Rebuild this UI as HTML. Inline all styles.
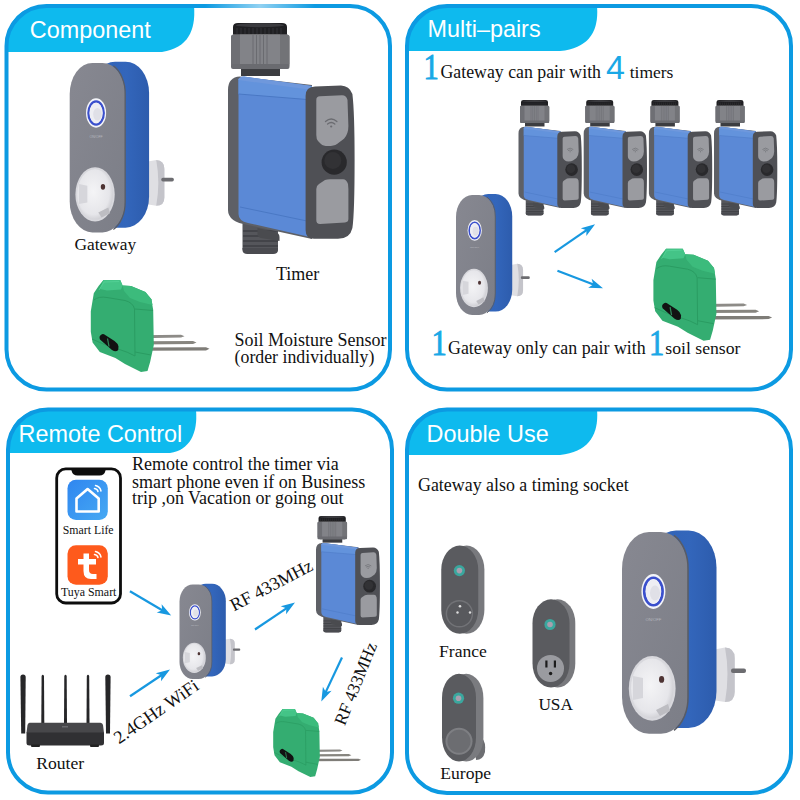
<!DOCTYPE html>
<html><head><meta charset="utf-8">
<style>
html,body{margin:0;padding:0;background:#fff;width:800px;height:800px;overflow:hidden}
svg{display:block}
.hd{font-family:"Liberation Sans",sans-serif;fill:#fff}
.tx{font-family:"Liberation Serif",serif;fill:#111}
</style></head><body>
<svg width="800" height="800" viewBox="0 0 800 800">
<defs>
 <linearGradient id="gwBlue" x1="0" y1="0" x2="1" y2="0">
  <stop offset="0" stop-color="#3062b6"/><stop offset="0.6" stop-color="#3366bb"/><stop offset="1" stop-color="#2d5cad"/>
 </linearGradient>
 <linearGradient id="gwGray" x1="0" y1="0" x2="1" y2="1">
  <stop offset="0" stop-color="#878891"/><stop offset="1" stop-color="#7c7e87"/>
 </linearGradient>
 <radialGradient id="sockG" cx="0.45" cy="0.45" r="0.6">
  <stop offset="0" stop-color="#f4f4f6"/><stop offset="0.75" stop-color="#e6e6ea"/><stop offset="1" stop-color="#c9c9ce"/>
 </radialGradient>
 <g id="tm">
  <!-- bottom connector -->
  <rect x="14.5" y="197" width="35.5" height="34.5" rx="5" fill="#55565b"/>
  <g stroke="#3e3f43" stroke-width="1.6">
   <line x1="15" y1="209" x2="50" y2="209"/><line x1="15" y1="214" x2="50" y2="214"/>
   <line x1="15" y1="219" x2="50" y2="219"/><line x1="15" y1="224" x2="50" y2="224"/>
  </g>
  <path d="M14.5,226 L50,226 L50,228 Q50,232 45,232 L19.5,232 Q14.5,232 14.5,228 Z" fill="#4a4b50"/>
  <!-- nut -->
  <path d="M13,44 L52,44 L52,54 L13,54 Z" fill="#3c3d41"/>
  <path d="M3,15 Q3,12.5 6,12.5 L58.5,12.5 Q61.5,12.5 61.5,15 L61.5,42 Q61.5,46 57,47 L8,47 Q3,46 3,42 Z" fill="#828388"/>
  <path d="M3,15 Q3,12.5 6,12.5 L12,12.5 L12,47 L8,47 Q3,46 3,42 Z" fill="#6e6f74"/>
  <path d="M52,12.5 L58.5,12.5 Q61.5,12.5 61.5,15 L61.5,42 Q61.5,46 57,47 L52,47 Z" fill="#727377"/>
  <g stroke="#6a6b70" stroke-width="1"><line x1="25" y1="13" x2="25" y2="46"/><line x1="28.5" y1="13" x2="28.5" y2="46"/><line x1="32" y1="13" x2="32" y2="46"/><line x1="35.5" y1="13" x2="35.5" y2="46"/><line x1="39" y1="13" x2="39" y2="46"/></g>
  <rect x="3" y="42" width="58.5" height="5" rx="2" fill="#6a6b70"/>
  <path d="M5,5 Q5,1 10,1 L54,1 Q59,1 59,5 L59,12.5 L5,12.5 Z" fill="#1f1f22"/>
  <ellipse cx="32" cy="3.2" rx="24" ry="2" fill="#3b3b3f"/>
  <g stroke="#39393d" stroke-width="0.8"><line x1="9" y1="6" x2="9" y2="12"/><line x1="13" y1="6" x2="13" y2="12"/><line x1="17" y1="6" x2="17" y2="12"/><line x1="21" y1="6" x2="21" y2="12"/><line x1="25" y1="6" x2="25" y2="12"/><line x1="29" y1="6" x2="29" y2="12"/><line x1="33" y1="6" x2="33" y2="12"/><line x1="37" y1="6" x2="37" y2="12"/><line x1="41" y1="6" x2="41" y2="12"/><line x1="45" y1="6" x2="45" y2="12"/><line x1="49" y1="6" x2="49" y2="12"/><line x1="53" y1="6" x2="53" y2="12"/></g>
  <!-- shell -->
  <path d="M0,68 Q0,55 12,54.5 L84,63 L84,217 L20,203 Q0,200 0,188 Z" fill="#5e6066"/>
  <!-- blue front -->
  <path d="M10.5,57 Q12,54.5 16,54.5 L84,64 L84,215.5 L20,201 Q10.5,199 10.5,192 Z" fill="#5b89d6"/>
  <path d="M10.5,57 L84,66.5 L84,78 L10.5,72 Z" fill="#6393dc"/>
  <path d="M10.5,72 L79,77.5 M12,185 L79,199" stroke="#4a78c4" stroke-width="1" fill="none"/>
  <path d="M10.5,57 Q12,54.5 16,54.5 L84,64 L84,68 L10.5,58 Z" fill="#6f98dc"/>
  <!-- right frame -->
  <path d="M77.6,74 Q77.6,64.7 87,64.5 L113,63.6 Q121.3,64 124.4,72 Q126.6,90 126.6,138 Q126.6,191 124.4,206 Q122,216.8 110,216.8 L86,216.8 Q77.6,216.8 77.6,208 Z" fill="#4f5055"/>
  <path d="M88.3,78 Q88.3,74.3 92,74.3 L114,73.2 Q118.5,73.2 119.5,78 L120.4,104 Q120.4,112 116,116.8 L109,122 Q106,124 100,124 Q95,124 93,122 L90,119 Q88.3,117 88.3,113 Z" fill="#9a9ba0"/>
  <path d="M88.3,167 Q88.3,163.6 91,162 L97,158 Q99,157.3 102,157.3 L115,157.3 Q118.5,157.3 120,162 L120.4,167 L120.4,197 Q120.4,200 117,200.5 L92,202 Q88.3,202 88.3,198 Z" fill="#9a9ba0"/>
  <circle cx="106.2" cy="140.2" r="12.6" fill="#29292c"/>
  <circle cx="104.8" cy="138.5" r="8.5" fill="#323235"/>
  <g fill="none" stroke="#6b6c71" stroke-width="1.3" stroke-linecap="round">
   <path d="M97.5,99.5 Q103.2,94.5 108.9,99.5"/><path d="M99.6,102 Q103.2,99 106.8,102"/>
  </g>
  <circle cx="103.2" cy="104.5" r="1.1" fill="#6b6c71"/>
  <!-- tab -->
  <path d="M29.5,206 L47,210 Q51.5,211 51.5,215 L51.5,219 L33,216 Q29.5,215 29.5,212 Z" fill="#4a4b4f"/>
 </g>
 <g id="sn">
  <!-- rods -->
  <g>
   <path d="M140,335.2 L181,334.8 L184.5,336.2 L181,337.6 L140,338.2 Z" fill="#8d8b87"/>
   <path d="M140,341.2 L193,341 L196.5,342.5 L193,344 L140,344.4 Z" fill="#87857f"/>
   <path d="M140,347.4 L206,347.2 L209.5,348.8 L206,350.4 L140,350.8 Z" fill="#7f7d78"/>
  </g>
  <!-- body -->
  <path d="M98.6,286.1 L103.4,280.1 L120.2,280.1 L122.6,285.5 L131,286.1 L145.4,292.1 L151.4,299.3 L153.2,310.1 L153.8,345 L150.2,361.7 L147.5,371 L141,372 L125,364.1 L115.4,358.1 L99.8,352.1 L92.6,342.5 L90.8,331.7 L90.8,311.3 L93.8,293.3 Z" fill="#34ad71"/>
  <path d="M103.4,280.1 L120.2,280.1 L122.6,285.5 L121,289.5 L107,290.5 L100,289 Z" fill="#44c487"/>
  <path d="M122.6,285.5 L131,286.1 L145.4,292.1 L151.4,299.3 L152.5,305 L140,302 L130,298 L124,291 Z" fill="#3cbb7c"/>
  <path d="M93.8,300 Q99,296 107,297.5 L125,300.5 Q133,302.5 134.5,309 L135,356" fill="none" stroke="#2a9c62" stroke-width="1"/>
  <path d="M135,309 L153,310.5 M135,352 L151,355 M92,339 Q104,345 118,349 Q128,352 135,356" fill="none" stroke="#2a9c62" stroke-width="1"/>
  <path d="M99,290 L104,282 L119,281.5" fill="none" stroke="#52d095" stroke-width="0.9"/>
  <path d="M101.5,334.5 Q98.5,336 100,339.5 L112,350 Q116,352.5 118.2,350 L118.5,346.5 Q118,343.5 114.5,341 L104,334.2 Q102.5,333.6 101.5,334.5 Z" fill="#121212"/>
  <path d="M107.5,338.5 L109,346.5" stroke="#2f8a5a" stroke-width="1.2"/>
 </g>
 <g id="gw">
  <!-- plug -->
  <path d="M90,118 L103,115.5 Q112.7,116 112.7,126 L112.7,160 Q112.7,170 103,170 L90,168 Z" fill="#dfdfe3"/>
  <path d="M103,115.5 Q112.7,116 112.7,126 L112.7,160 Q112.7,170 103,170 Q108,142 103,115.5 Z" fill="#c4c4ca"/>
  <rect x="109" y="136.5" width="15" height="4.5" rx="2" fill="#6c6c70"/>
  <!-- blue side -->
  <rect x="26" y="-1.5" width="68.5" height="197.5" rx="28" ry="37" fill="url(#gwBlue)"/>
  <!-- gray front -->
  <rect x="0" y="0" width="66" height="201.75" rx="27" ry="37" fill="url(#gwGray)"/>
  <path d="M52,3.4 A27,37 0 0 1 66,37 L66,164.75 A27,37 0 0 1 52,198.3" fill="none" stroke="#5a5c63" stroke-width="1.5"/>
  <!-- led -->
  <ellipse cx="31.4" cy="59.5" rx="12" ry="17.5" fill="#f3f4f9"/>
  <ellipse cx="31.4" cy="59.5" rx="9.2" ry="13.8" fill="none" stroke="#3a4fcc" stroke-width="2.6"/>
  <ellipse cx="31.4" cy="59.5" rx="7.6" ry="12" fill="#eeeef3"/>
  <ellipse cx="33" cy="61" rx="5" ry="7.5" fill="#e0e0e7"/>
  <text x="31.4" y="89" font-size="4.2" text-anchor="middle" fill="#b5b7be" style="font-family:'Liberation Sans',sans-serif">ON/OFF</text>
  <!-- socket -->
  <ellipse cx="30.2" cy="156.4" rx="23.4" ry="32.4" fill="#d8d8dd"/>
  <ellipse cx="30.2" cy="156.4" rx="21.2" ry="30" fill="url(#sockG)"/>
  <path d="M11,144 L21,146 L21,166 L11,168 Z" fill="#d6d6db"/>
  <ellipse cx="39.6" cy="147.4" rx="2.6" ry="3.4" fill="#4e3434"/>
  <path d="M34,178 L46,172 L48,179 L38,184 Z" fill="#bdbdc2"/>
 </g>
</defs>
<rect width="800" height="800" fill="#fff"/>

<!-- PANEL 1 -->
<path d="M6.5,47 Q6.5,6 47,6 L194,6 C196,30 188,48 162,52 L6.5,52 Z" fill="#0ebaee"/>
<rect x="6.5" y="6" width="383.5" height="383.5" rx="40" ry="40" fill="none" stroke="#0c9ae2" stroke-width="4"/>
<defs><linearGradient id="hl" x1="0" y1="0" x2="1" y2="0"><stop offset="0" stop-color="#fff" stop-opacity="0"/><stop offset="0.5" stop-color="#fff" stop-opacity="0.55"/><stop offset="1" stop-color="#fff" stop-opacity="0"/></linearGradient></defs>
<rect x="205" y="4" width="110" height="4" fill="url(#hl)"/>
<text class="hd" x="29.8" y="38" font-size="23.4">Component</text>

<!-- PANEL 2 -->
<path d="M407,47 Q407,6 447,6 L597,6 C599,30 590,48 560,51 L407,51 Z" fill="#0ebaee"/>
<rect x="407" y="6" width="384" height="383.5" rx="40" ry="40" fill="none" stroke="#0c9ae2" stroke-width="4"/>
<text class="hd" x="427.5" y="36.5" font-size="23.4">Multi–pairs</text>

<!-- PANEL 3 -->
<path d="M8,450 Q8,409.5 48,409.5 L196,409.5 C198,433 190,450 170,453 L8,453 Z" fill="#0ebaee"/>
<rect x="8" y="409.5" width="384" height="383" rx="40" ry="40" fill="none" stroke="#0c9ae2" stroke-width="4"/>
<text class="hd" x="18.5" y="442" font-size="23.4">Remote Control</text>

<!-- PANEL 4 -->
<path d="M407,450 Q407,409.5 447,409.5 L597,409.5 C599,433 590,452 560,455 L407,455 Z" fill="#0ebaee"/>
<rect x="407" y="409.5" width="384" height="383.5" rx="40" ry="40" fill="none" stroke="#0c9ae2" stroke-width="4"/>
<text class="hd" x="426.5" y="442" font-size="23.4">Double Use</text>

<!-- texts -->
<text class="tx" x="74.4" y="249.5" font-size="17.4">Gateway</text>
<text class="tx" x="276" y="280" font-size="18">Timer</text>
<text class="tx" x="234.6" y="346.2" font-size="18">Soil Moisture Sensor</text>
<text class="tx" x="234.6" y="363" font-size="17.8">(order individually)</text>

<text class="tx" transform="translate(423.5,79) scale(0.84,1)" font-size="36.5" style="fill:#1aa8e6;stroke:#1aa8e6;stroke-width:0.9">1</text>
<text class="tx" x="440.5" y="78" font-size="17.8">Gateway can pair with</text>
<text x="606" y="78.5" font-size="34" style="font-family:'Liberation Sans',sans-serif;fill:#1aa8e6">4</text>
<text class="tx" x="629.7" y="78" font-size="17.5">timers</text>
<text class="tx" transform="translate(431.5,355) scale(0.84,1)" font-size="36.5" style="fill:#1aa8e6;stroke:#1aa8e6;stroke-width:0.9">1</text>
<text class="tx" x="448" y="354.2" font-size="17.9">Gateway only can pair with</text>
<text class="tx" transform="translate(649,355) scale(0.84,1)" font-size="36.5" style="fill:#1aa8e6;stroke:#1aa8e6;stroke-width:0.9">1</text>
<text class="tx" x="665.3" y="354.2" font-size="17.7">soil sensor</text>

<text class="tx" x="131.9" y="470" font-size="18">Remote control the timer via</text>
<text class="tx" x="131.9" y="487.5" font-size="18">smart phone even if on Business</text>
<text class="tx" x="131.9" y="504.4" font-size="18">trip ,on Vacation or going out</text>
<text class="tx" x="36.2" y="768.7" font-size="17.6">Router</text>

<text class="tx" x="418" y="490.7" font-size="17.9">Gateway also a timing socket</text>
<text class="tx" x="439" y="657" font-size="17.6">France</text>
<text class="tx" x="538.4" y="710" font-size="17.3">USA</text>
<text class="tx" x="440.3" y="778.7" font-size="17.6">Europe</text>

<use href="#gw" transform="translate(622,532)"/>
<use href="#gw" transform="translate(69.7,63) scale(0.84)"/>
<use href="#gw" transform="translate(456,195) scale(0.595)"/>
<use href="#gw" transform="translate(179.5,584.5) scale(0.49,0.469)"/>
<use href="#tm" transform="translate(228,22)"/>
<use href="#tm" transform="translate(518.5,99.5) scale(0.5)"/>
<use href="#tm" transform="translate(583.7,99.5) scale(0.5)"/>
<use href="#tm" transform="translate(648.9,99.5) scale(0.5)"/>
<use href="#tm" transform="translate(714,99.5) scale(0.5)"/>
<use href="#tm" transform="translate(316,515.4) scale(0.505)"/>
<use href="#sn"/>
<use href="#sn" transform="translate(562.6,-31.3)"/>
<use href="#sn" transform="translate(206,501.7) scale(0.74)"/>

<!-- phone -->
<rect x="56.7" y="468.9" width="63.8" height="134.1" rx="9" fill="#fff" stroke="#0d0d0d" stroke-width="2.8"/>
<path d="M71.5,468 L105.5,468 L105.5,470.5 Q104.5,475.5 99.5,475.5 L77.5,475.5 Q72.5,475.5 71.5,470.5 Z" fill="#0d0d0d"/>
<defs><linearGradient id="slG" x1="0" y1="0" x2="1" y2="1"><stop offset="0" stop-color="#2f86f0"/><stop offset="1" stop-color="#46a9f3"/></linearGradient></defs>
<rect x="67.5" y="479.7" width="40.3" height="40.3" rx="8.5" fill="url(#slG)"/>
<path d="M76.5,498.5 L87.6,489 L98.7,498.5 L98.7,511.5 L76.5,511.5 Z" fill="none" stroke="#fff" stroke-width="2.6" stroke-linejoin="round"/>
<g fill="none" stroke="#fff" stroke-width="1.5" stroke-linecap="round"><path d="M95.5,485.5 Q100,486.5 101,491"/><path d="M94.5,488.5 Q97.5,489 98,491.5"/></g>
<text class="tx" x="62.8" y="533.5" font-size="11.8">Smart Life</text>
<rect x="67.5" y="545.3" width="40.3" height="39.4" rx="8.5" fill="#fe5a1c"/>
<path d="M83.5,553.5 L89,553.5 L89,559 L96,559 L96,564.5 L89,564.5 L89,570 Q89,574 93,574 L96.5,574 L96.5,579 L91,579 Q83.5,579 83.5,571 L83.5,564.5 L78,564.5 L78,559 L83.5,559 Z" fill="#fff"/>
<g fill="none" stroke="#fff" stroke-width="1.5" stroke-linecap="round"><path d="M95.5,551.5 Q100,552.5 101,557"/><path d="M94.5,554.5 Q97.5,555 98,557.5"/></g>
<text class="tx" x="61" y="596" font-size="11.9">Tuya Smart</text>

<!-- router -->
<g fill="#262628">
 <path d="M20.4,677 Q20.4,674.5 23,674.5 Q25.7,674.5 25.7,677 L25.2,733.5 L21.2,733.5 Z"/>
 <path d="M41.6,676 Q42.8,673.5 44,676 L44.3,723 L41.3,723 Z"/>
 <path d="M64.3,676 Q65.5,673.5 66.7,676 L67,723 L64,723 Z"/>
 <path d="M86.8,676 Q88,673.5 89.2,676 L89.5,723 L86.5,723 Z"/>
 <path d="M105.3,677 Q105.3,674.5 107.9,674.5 Q110.6,674.5 110.6,677 L110,733.5 L106,733.5 Z"/>
</g>
<path d="M29.5,722.8 L100.5,722.8 Q102.5,723 103,725 L104,733 L26.5,733 L27.5,725 Q28,723 29.5,722.8 Z" fill="#47474a"/>
<path d="M26.5,732.5 L104,732.5 L104,743 Q104,745.5 101,745.5 L29.5,745.5 Q26.5,745.5 26.5,743 Z" fill="#303033"/>
<rect x="31" y="744.5" width="9" height="2.5" rx="1" fill="#222"/><rect x="90" y="744.5" width="9" height="2.5" rx="1" fill="#222"/>
<rect x="62" y="726" width="6" height="1.5" fill="#6a6a6e"/>

<!-- small plugs -->
<g>
 <rect x="449" y="545.6" width="35.4" height="88.2" rx="17.7" ry="24" fill="#78797d"/>
 <rect x="441.25" y="545.6" width="37" height="88.2" rx="18.5" ry="24" fill="#5a5b5f"/>
 <circle cx="459.4" cy="570.6" r="5.6" fill="#3aa79e"/><circle cx="459.4" cy="570.6" r="2.8" fill="#a99fae"/>
 <circle cx="459.4" cy="613.75" r="13.75" fill="#727377"/><circle cx="459.4" cy="613.75" r="12.3" fill="#58595d"/>
 <circle cx="460" cy="606.3" r="1.3" fill="#ddd"/><circle cx="457.5" cy="612.5" r="1.2" fill="#ddd"/><circle cx="470" cy="612.5" r="1.2" fill="#ddd"/>
</g>
<g>
 <rect x="540" y="599.3" width="35.3" height="88.2" rx="17.6" ry="24" fill="#78797d"/>
 <rect x="532.5" y="599.3" width="37" height="88.2" rx="18.5" ry="24" fill="#5a5b5f"/>
 <circle cx="550" cy="624.5" r="5.6" fill="#3aa79e"/><circle cx="550" cy="624.5" r="2.8" fill="#a99fae"/>
 <circle cx="550.5" cy="668.4" r="13.5" fill="#9a9ba0"/>
 <rect x="545.3" y="660.5" width="2.2" height="7" fill="#1c1c1c"/><rect x="553.8" y="660.5" width="2.2" height="7" fill="#1c1c1c"/>
 <circle cx="550.6" cy="673.5" r="1.7" fill="#1c1c1c"/>
</g>
<g>
 <path d="M474,738 L482,738 Q486,742 485,752 Q483,760 476,760 Z" fill="#6d6e72"/>
 <rect x="449" y="673.8" width="34.4" height="87.8" rx="17.2" ry="24" fill="#7a7b7f"/>
 <rect x="442" y="673.8" width="34" height="87.8" rx="17" ry="24" fill="#5a5b5f"/>
 <circle cx="458.5" cy="698.2" r="5.6" fill="#3aa79e"/><circle cx="458.5" cy="698.2" r="2.8" fill="#a99fae"/>
 <circle cx="459" cy="741.3" r="13.5" fill="#7e7f83"/><circle cx="459" cy="741.3" r="11.5" fill="#6c6d71"/>
</g>

<!-- rotated texts -->
<text class="tx" font-size="18" transform="translate(234,611.5) rotate(-27.65)">RF 433MHz</text>
<text class="tx" font-size="18.3" transform="translate(119,744.5) rotate(-34.5)">2.4GHz WiFi</text>
<text class="tx" font-size="17.4" transform="translate(344.7,726.3) rotate(-68)">RF 433MHz</text>
<g transform="translate(595.1,224.2) rotate(-34.66)"><line x1="-49.2" y1="0" x2="-9.5" y2="0" stroke="#1798e0" stroke-width="2.2"/><path d="M0,0 L-14,-4.8 L-10.5,0 L-14,4.8 Z" fill="#1798e0"/></g>
<g transform="translate(603,288.2) rotate(21.00)"><line x1="-48.8" y1="0" x2="-9.5" y2="0" stroke="#1798e0" stroke-width="2.2"/><path d="M0,0 L-14,-4.8 L-10.5,0 L-14,4.8 Z" fill="#1798e0"/></g>
<g transform="translate(171.25,615.5) rotate(30.45)"><line x1="-47.9" y1="0" x2="-9.5" y2="0" stroke="#1798e0" stroke-width="2.2"/><path d="M0,0 L-14,-4.8 L-10.5,0 L-14,4.8 Z" fill="#1798e0"/></g>
<g transform="translate(170,669.5) rotate(-33.77)"><line x1="-48.1" y1="0" x2="-9.5" y2="0" stroke="#1798e0" stroke-width="2.2"/><path d="M0,0 L-14,-4.8 L-10.5,0 L-14,4.8 Z" fill="#1798e0"/></g>
<g transform="translate(295,602.5) rotate(-34.02)"><line x1="-48.3" y1="0" x2="-9.5" y2="0" stroke="#1798e0" stroke-width="2.2"/><path d="M0,0 L-14,-4.8 L-10.5,0 L-14,4.8 Z" fill="#1798e0"/></g>
<g transform="translate(321.3,701.5) rotate(115.19)"><line x1="-48.6" y1="0" x2="-9.5" y2="0" stroke="#1798e0" stroke-width="2.2"/><path d="M0,0 L-14,-4.8 L-10.5,0 L-14,4.8 Z" fill="#1798e0"/></g>
</svg>
</body></html>
